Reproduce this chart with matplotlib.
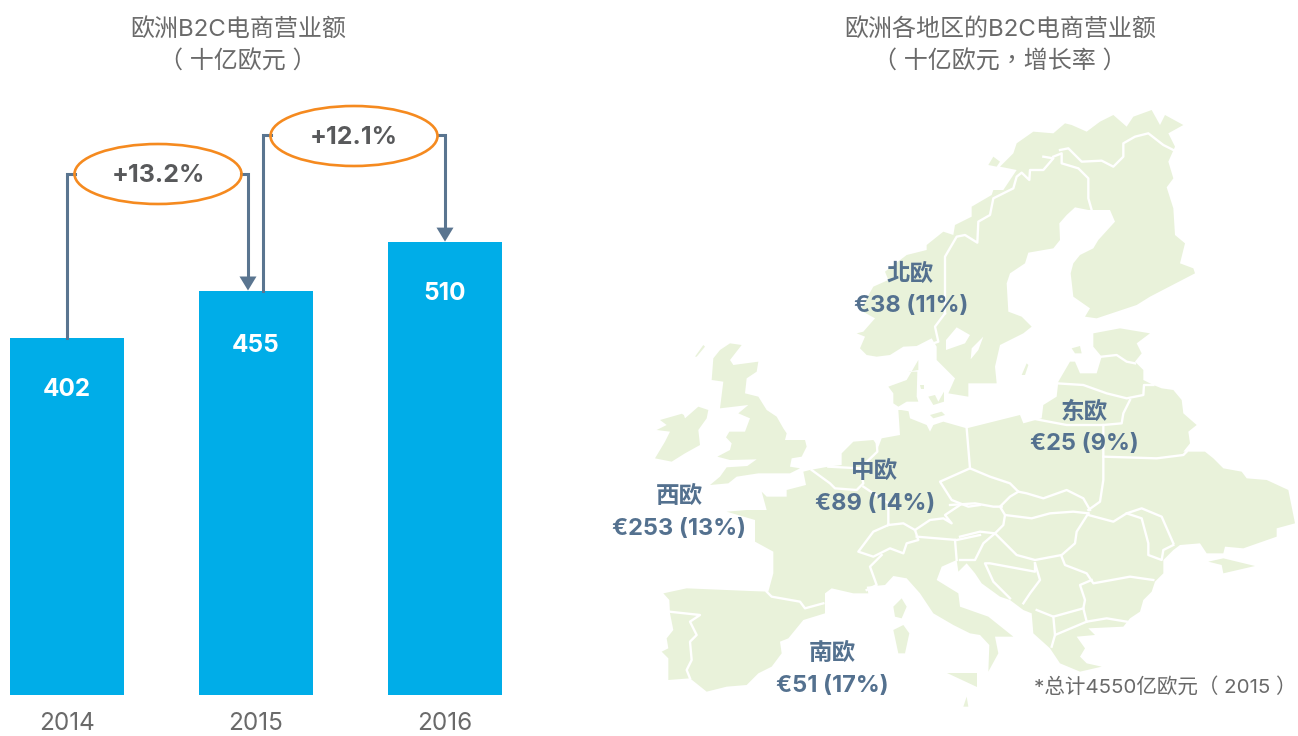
import matplotlib
matplotlib.use('Agg')
import matplotlib.pyplot as plt
from matplotlib.patches import Ellipse, Polygon

SANS = ['Inter', 'Noto Sans CJK TC', 'DejaVu Sans']
plt.rcParams['font.family'] = SANS

# data
years = ['2014', '2015', '2016']
revenue = [402, 455, 510]
revenue_labels = ['402', '455', '510']
growth_labels = ['+13.2%', '+12.1%']
region_names = ['北欧', '东欧', '中欧', '西欧', '南欧']
region_values = ['€38 (11%)', '€25 (9%)', '€89 (14%)', '€253 (13%)', '€51 (17%)']

BAR_BLUE = '#00ADE8'
ARROW = '#5A7590'
ORANGE = '#F58A1F'
LAND = '#E9F2DA'
LABEL = '#54718F'
GREY = '#6A6A6A'
DARK = '#58595B'

W, H = 1298, 736
BASE_Y = 695
PX_PER_UNIT = 0.889
BAR_X0 = 67
BAR_STEP = 189


def z2(pts):
    return [(840 + x / 3, 100 + y / 3) for x, y in pts]


def z3(pts):
    return [(640 + x / 3, 330 + y / 3) for x, y in pts]


def z4(pts):
    return [(960 + x / 3, 400 + y / 3) for x, y in pts]


scandinavia = z2([(50, 700), (75, 710), (60, 745), (80, 765), (110, 770), (150, 765), (190, 740), (230, 738),
                  (275, 715), (290, 740), (290, 780), (345, 835), (325, 880), (385, 890), (385, 850), (470, 850),
                  (465, 800), (480, 735), (550, 700), (575, 680), (545, 650), (505, 635), (500, 550), (510, 520),
                  (555, 490), (565, 458), (640, 445), (660, 420), (658, 370), (680, 345), (705, 322), (745, 330),
                  (810, 330), (825, 365), (775, 420), (760, 445), (720, 465), (700, 490), (692, 520), (700, 590),
                  (750, 625), (735, 650), (770, 655), (830, 635), (890, 615), (930, 590), (1065, 520), (1060, 505),
                  (1020, 490), (1035, 430), (1005, 405), (1000, 325), (980, 262), (1000, 235), (985, 185),
                  (1005, 140), (985, 100), (1030, 75), (975, 45), (960, 75), (935, 30), (880, 50), (860, 80),
                  (820, 45), (780, 65), (740, 95), (695, 75), (675, 70), (640, 100), (580, 95), (530, 130),
                  (520, 160), (480, 200), (530, 210), (490, 270), (460, 270), (455, 285), (395, 320), (395, 350),
                  (345, 375), (340, 405), (310, 395), (260, 435), (260, 450), (200, 465), (135, 515), (145, 540),
                  (100, 560), (60, 630), (105, 655), (70, 695)])
lakes = [z2([(318, 720), (350, 682), (390, 705), (375, 730), (318, 750)]),
         z2([(430, 710), (395, 745), (392, 778), (415, 750)])]

mainland = (
    z3([(510, 420), (490, 425), (498, 465), (440, 480), (440, 500), (380, 500), (365, 485), (380, 540), (320, 540),
        (260, 545), (345, 570), (345, 635), (400, 665), (400, 730), (385, 785), (330, 783), (140, 775), (70, 790),
        (88, 810), (90, 850), (100, 900), (80, 925), (85, 955), (65, 965), (85, 985), (85, 1050), (150, 1045),
        (200, 1085), (260, 1070), (320, 1065), (355, 1030), (395, 1010), (425, 970), (420, 935), (445, 925),
        (490, 870), (555, 850), (555, 790), (575, 775), (640, 790), (685, 790), (680, 770), (735, 765), (760, 738),
        (800, 745), (840, 790), (880, 850), (940, 885), (990, 910), (1020, 915)])
    + z4([(88, 735), (85, 815), (115, 760), (105, 710), (160, 710), (85, 650), (0, 620), (-5, 580), (-70, 540),
          (-55, 500), (-10, 480), (-5, 515), (20, 490), (45, 520), (65, 550), (120, 590), (150, 600), (190, 630),
          (215, 640), (220, 700), (270, 745), (300, 790), (360, 815), (425, 800), (380, 790), (360, 770), (375, 745),
          (350, 710), (405, 705), (385, 685), (490, 680), (510, 655), (540, 635), (550, 600), (575, 575), (585, 545),
          (610, 520), (610, 480), (640, 450), (660, 435), (720, 430), (740, 460), (790, 460), (795, 440), (850, 445),
          (950, 410), (950, 385), (1005, 370), (995, 320), (985, 270), (920, 240), (860, 235), (845, 215), (790, 205),
          (760, 175), (735, 155), (670, 155), (690, 130), (685, 95), (710, 75), (670, 40), (665, 0)])
    + z2([(1000, 870), (965, 865), (940, 855), (910, 840), (910, 810), (885, 785), (905, 760), (890, 730), (930, 700),
          (840, 685), (760, 700), (760, 740), (785, 770), (770, 820), (720, 820), (705, 785), (690, 785), (655, 845),
          (650, 890)])
    + z4([(250, 15), (245, 55), (190, 70), (180, 45), (20, 85)])
    + z3([(910, 275), (880, 285), (870, 305), (860, 285), (810, 265), (805, 240), (775, 240), (780, 315), (725, 325),
          (710, 365), (715, 350), (700, 330), (640, 335), (605, 370), (605, 405), (565, 410)])
)

britain = z3([(240, 60), (270, 40), (305, 45), (270, 90), (280, 105), (355, 95), (350, 125), (320, 145), (315, 190),
              (355, 200), (380, 240), (410, 260), (430, 295), (440, 310), (435, 330), (495, 330), (500, 350),
              (485, 380), (455, 385), (450, 410), (480, 415), (450, 430), (355, 430), (290, 440), (265, 460),
              (210, 465), (240, 440), (260, 412), (322, 408), (350, 388), (270, 390), (232, 380), (270, 360),
              (275, 340), (258, 322), (268, 305), (315, 305), (330, 265), (295, 250), (325, 225), (240, 235),
              (250, 155), (215, 150), (220, 85)])
ireland = z3([(130, 250), (60, 270), (80, 285), (50, 300), (90, 305), (75, 335), (45, 385), (95, 395), (135, 370),
              (180, 345), (175, 300), (200, 265), (205, 240), (175, 230), (135, 265)])
denmark = z3([(745, 170), (800, 150), (835, 90), (835, 120), (805, 125), (832, 125), (830, 200), (835, 215),
              (800, 215), (775, 230), (760, 220), (760, 190)])
islands = [
    z3([(865, 200), (885, 195), (895, 215), (912, 185), (912, 215), (880, 225)]),
    z3([(840, 165), (852, 165), (852, 178), (842, 178)]),
    z3([(870, 255), (905, 245), (915, 255), (880, 265)]),
    z3([(165, 80), (190, 45), (195, 50), (170, 80)]),
    z3([(760, 830), (785, 805), (800, 830), (785, 865), (765, 860)]),
    z3([(760, 900), (790, 885), (808, 910), (795, 970), (775, 970)]),
    z3([(920, 1030), (1010, 1030), (1010, 1070)]),
    z3([(970, 1130), (980, 1100), (985, 1130)]),
    z4([(745, 485), (790, 475), (885, 498), (790, 520), (785, 495)]),
    z2([(445, 195), (460, 170), (480, 185), (470, 200)]),
    z2([(545, 825), (560, 790), (565, 795), (555, 825)]),
    z2([(695, 745), (720, 738), (725, 760), (705, 760)]),
]

borders = [
    z2([(315, 640), (315, 470), (350, 410), (375, 405), (412, 428), (415, 365), (450, 345), (460, 295), (520, 265),
        (530, 230), (545, 218), (568, 240), (570, 210), (610, 210), (640, 175), (610, 170)]),
    z2([(315, 640), (285, 680), (295, 725), (280, 730)]),
    z2([(640, 170), (665, 160), (665, 190), (715, 205), (745, 235), (745, 295), (755, 330)]),
    z2([(660, 150), (685, 145), (725, 185), (785, 182), (820, 200), (850, 170), (850, 130), (885, 110), (925, 100),
        (970, 135), (1000, 150)]),
    z2([(785, 770), (830, 765), (860, 785), (885, 790)]),
    z2([(650, 850), (730, 855), (800, 880), (860, 895), (910, 885), (912, 855), (940, 855)]),
    z4([(190, 50), (240, 60), (320, 75), (430, 75), (485, 70), (490, 40), (510, 0)]),
    z4([(430, 75), (430, 240), (420, 305), (385, 330)]),
    z4([(430, 170), (590, 175), (670, 165), (680, 155)]),
    z4([(20, 85), (30, 205), (90, 230), (150, 250), (175, 275), (200, 280), (250, 295), (320, 270), (370, 295),
        (390, 330)]),
    z4([(175, 275), (150, 290), (120, 320), (135, 345), (215, 355), (270, 340), (340, 335), (385, 340)]),
    z4([(-30, 315), (45, 310), (100, 320), (125, 320)]),
    z3([(990, 415), (900, 455), (935, 510), (985, 530), (1020, 525)]),
    z3([(830, 620), (950, 630), (1020, 615)]),
    z3([(825, 600), (870, 570), (910, 565), (935, 580), (915, 555), (960, 525)]),
    z3([(945, 630), (950, 690)]),
    z4([(135, 345), (130, 375), (105, 400), (60, 395), (0, 410)]),
    z4([(385, 340), (350, 395), (345, 430), (305, 465), (225, 480), (170, 465), (105, 400)]),
    z4([(385, 345), (460, 365), (500, 340), (545, 325), (605, 350), (640, 430)]),
    z4([(500, 340), (545, 355), (565, 430), (565, 465), (605, 480), (610, 450), (640, 435)]),
    z4([(305, 470), (315, 495), (380, 520), (400, 550), (510, 530), (580, 540)]),
    z4([(395, 540), (360, 555), (375, 600), (370, 625), (380, 665), (440, 655), (500, 665)]),
    z4([(370, 625), (280, 650), (230, 630)]),
    z4([(280, 650), (285, 705), (380, 665)]),
    z4([(285, 705), (275, 740)]),
    z4([(225, 490), (225, 515), (90, 490), (75, 490), (100, 545), (150, 595)]),
    z4([(225, 490), (240, 540), (210, 580), (190, 610)]),
    z4([(0, 480), (45, 480), (70, 430), (105, 400)]),
    z3([(515, 420), (570, 460), (585, 475), (650, 480), (670, 460), (660, 415), (565, 410)]),
    z3([(660, 415), (712, 365), (710, 335)]),
    z3([(670, 470), (745, 520), (745, 585), (700, 605), (655, 665), (700, 680), (750, 655), (790, 670), (800, 640),
        (835, 630), (825, 600), (790, 580), (745, 585)]),
    z3([(725, 675), (690, 710), (710, 765), (680, 780)]),
    z3([(380, 785), (395, 800), (480, 815), (495, 835), (550, 820)]),
    z3([(88, 845), (180, 855), (150, 875), (170, 915), (150, 935), (155, 990), (140, 1020), (150, 1045)]),
    z3([(775, 235), (805, 240)]),
    z3([(130, 250), (145, 225), (165, 215)]),
]

fig = plt.figure(figsize=(W / 100, H / 100), dpi=100, facecolor='white')

# bar chart
ax = fig.add_axes([0, 1 - BASE_Y / H, 520 / W, BASE_Y / H])
ax.bar(range(len(years)), revenue, width=114 / BAR_STEP, color=BAR_BLUE)
ax.set_xlim(-BAR_X0 / BAR_STEP, (520 - BAR_X0) / BAR_STEP)
ax.set_ylim(0, BASE_Y / PX_PER_UNIT)
ax.set_xticks(range(len(years)))
ax.set_xticklabels(years, fontsize=17.5, color=GREY)
ax.tick_params(axis='x', length=0, pad=12)
ax.set_yticks([])
for s in ax.spines.values():
    s.set_visible(False)
ax.patch.set_alpha(0)

# pixel overlay for the map and the annotations
ov = fig.add_axes([0, 0, 1, 1])
ov.set_xlim(0, W)
ov.set_ylim(H, 0)
ov.axis('off')
ov.patch.set_alpha(0)

for poly in [scandinavia, mainland, britain, ireland, denmark] + islands:
    ov.add_patch(Polygon(poly, closed=True, facecolor=LAND, edgecolor='none', zorder=1))
for poly in lakes:
    ov.add_patch(Polygon(poly, closed=True, facecolor='white', edgecolor='none', zorder=2))
for line in borders:
    ov.plot([p[0] for p in line], [p[1] for p in line], color='white', lw=1.7, zorder=2, solid_joinstyle='round')


def bar_top(i):
    return BASE_Y - revenue[i] * PX_PER_UNIT


def connector(x0, y0, xa, ya, y_top, x_l, x_r):
    ov.plot([x0, x0, x_l], [y0, y_top, y_top], color=ARROW, lw=2.2, zorder=3, solid_joinstyle='miter')
    ov.plot([x_r, xa, xa], [y_top, y_top, ya - 12], color=ARROW, lw=2.2, zorder=3, solid_joinstyle='miter')
    ov.add_patch(Polygon([(xa - 8.5, ya - 14), (xa + 8.5, ya - 14), (xa, ya)], closed=True,
                         facecolor=ARROW, edgecolor='none', zorder=3))


connector(67, bar_top(0), 248, bar_top(1), 174, 75, 241)
connector(263, bar_top(1), 445, bar_top(2), 135, 271, 438)

ov.add_patch(Ellipse((158, 174), 167, 60, facecolor='none', edgecolor=ORANGE, lw=1.9, zorder=4))
ov.add_patch(Ellipse((354, 136), 167, 60, facecolor='none', edgecolor=ORANGE, lw=1.9, zorder=4))
ov.text(158, 176, growth_labels[0], ha='center', va='center', fontsize=18, fontweight='bold', color=DARK, zorder=5)
ov.text(354, 138, growth_labels[1], ha='center', va='center', fontsize=18, fontweight='bold', color=DARK, zorder=5)

for i, (lab, y) in enumerate(zip(revenue_labels, [390, 345, 293])):
    ov.text(BAR_X0 + BAR_STEP * i, y, lab, ha='center', va='center', fontsize=17.5, fontweight='bold',
            color='white', zorder=5)

# titles
ov.text(238, 30, '欧洲B2C电商营业额', ha='center', va='center', fontsize=17.3, color=GREY)
ov.text(238, 62, '（ 十亿欧元 ）', ha='center', va='center', fontsize=17.3, color=GREY)
ov.text(1000, 30, '欧洲各地区的B2C电商营业额', ha='center', va='center', fontsize=17.3, color=GREY)
ov.text(1000, 62, '（ 十亿欧元，增长率 ）', ha='center', va='center', fontsize=17.3, color=GREY)

# region labels
name_pos = [(910, 275), (1084, 413), (875, 472), (679, 497), (832, 654)]
value_pos = [(911, 306), (1084, 444), (875, 504), (679, 529), (832, 686)]
for n, v, pn, pv in zip(region_names, region_values, name_pos, value_pos):
    ov.text(pn[0], pn[1], n, ha='center', va='center', fontsize=17, fontweight='bold', color=LABEL, zorder=5)
    ov.text(pv[0], pv[1], v, ha='center', va='center', fontsize=17, fontweight='bold', color=LABEL, zorder=5)

ov.text(1297, 687, '*总计4550亿欧元（ 2015 ）', ha='right', va='center', fontsize=14.8, color=GREY, zorder=5)

fig.savefig('out.png', dpi=100)
